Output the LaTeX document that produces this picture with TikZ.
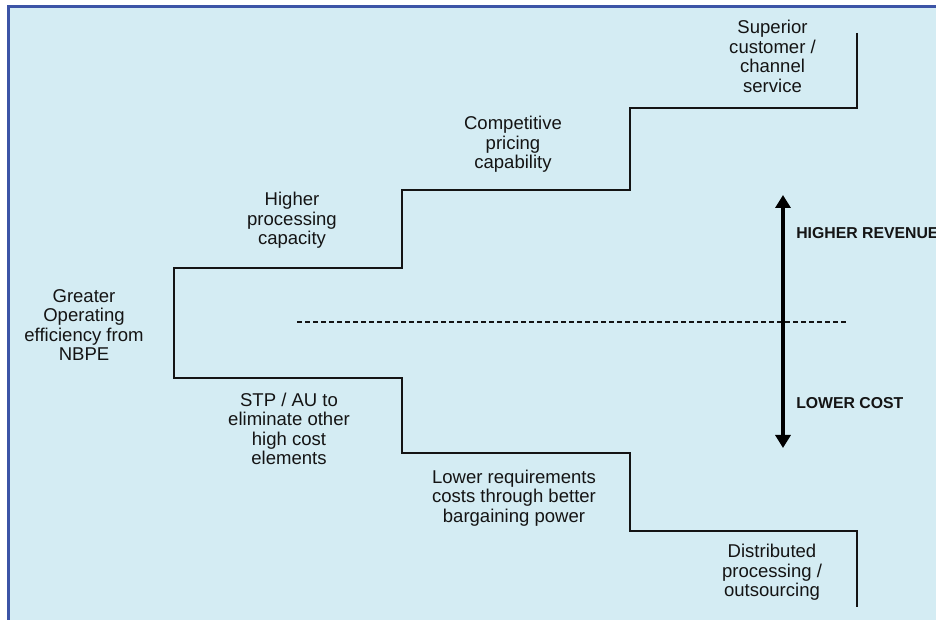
\documentclass[tikz,border=0pt]{standalone}
\usepackage{fontspec}
\setmainfont{Liberation Sans}
\usetikzlibrary{arrows.meta}
\definecolor{panel}{RGB}{212,236,243}
\definecolor{frame}{RGB}{60,84,166}
\definecolor{ink}{RGB}{20,20,20}

\begin{document}
\begin{tikzpicture}[x=0.75pt, y=-0.75pt, every text node part/.style={align=center}]

\tikzstyle{lbl}=[inner sep=0pt, text=ink, font=\fontsize{13.9}{14.6}\selectfont]
\tikzstyle{side}=[inner sep=0pt, anchor=west, text=ink, font=\fontsize{11.85}{14}\selectfont\bfseries]
\tikzstyle{edge}=[draw=ink, line width=1.5pt]
\tikzstyle{mid}=[draw=ink, line width=1.1pt, dash pattern=on 3.75pt off 2.25pt]
\tikzstyle{axis}=[draw=black, line width=3.4pt, {Triangle[length=9.75pt,width=11.25pt]}-{Triangle[length=9.75pt,width=11.25pt]}]

\useasboundingbox (0,0) rectangle (936,620);
\fill [panel] (8.7,6.7) rectangle (936,620);
\draw [frame, line width=2pt] (8.7,620) -- (8.7,6.7) -- (936,6.7);

\node [lbl] (greater)  at (84,325)    {Greater\\Operating\\efficiency from\\NBPE};
\node [lbl] (higher)   at (292,220.5) {Higher\\processing\\capacity};
\node [lbl] (pricing)  at (513,144.5) {Competitive\\pricing\\capability};
\node [lbl] (superior) at (772.5,56.5) {Superior\\customer /\\channel\\service};
\node [lbl] (stp)      at (289,429)   {STP / AU to\\eliminate other\\high cost\\elements};
\node [lbl] (lowerreq) at (514,498)   {Lower requirements\\costs through better\\bargaining power};
\node [lbl] (distrib)  at (772,572.5) {Distributed\\processing /\\outsourcing};

\node [side] (revenue) at (796,233.5) {HIGHER REVENUE};
\node [side] (lowcost) at (796,403)   {LOWER COST};

\coordinate (midl) at (297,322);
\coordinate (midr) at (847,322);
\coordinate (top)  at (783,195);
\coordinate (bot)  at (783,448);

\path [edge] (857,33) -- (857,108) -- (630,108) -- (630,190) -- (402,190) -- (402,268)
  -- (174,268) -- (174,378) -- (402,378) -- (402,453) -- (630,453) -- (630,531)
  -- (857,531) -- (857,607);

\path [mid] (midl) -- (midr);
\path [axis] (bot) -- (top);

\end{tikzpicture}
\end{document}
